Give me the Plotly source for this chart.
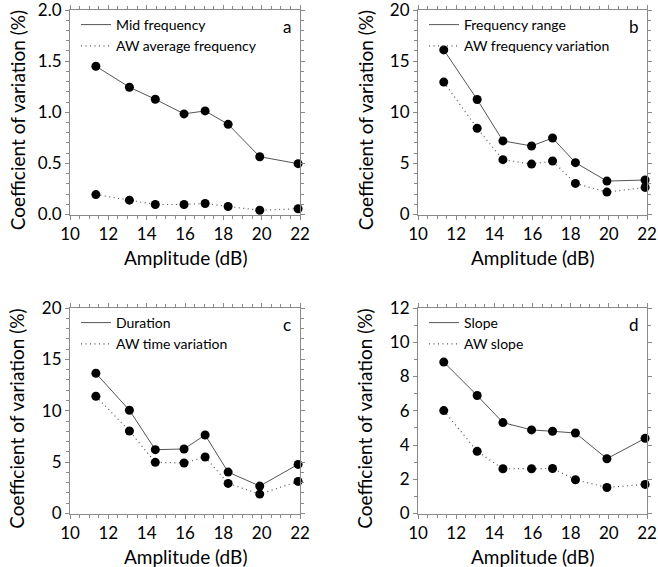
import plotly.graph_objects as go

# ---- data ----
amplitude = [11.35, 13.1, 14.45, 15.95, 17.05, 18.25, 19.9, 21.9]

mid_frequency = [1.45, 1.245, 1.127, 0.984, 1.013, 0.882, 0.565, 0.497]
aw_average_frequency = [0.195, 0.14, 0.098, 0.098, 0.108, 0.078, 0.042, 0.056]

frequency_range = [16.1, 11.25, 7.2, 6.7, 7.48, 5.07, 3.27, 3.37]
aw_frequency_variation = [12.95, 8.43, 5.36, 4.93, 5.23, 3.04, 2.19, 2.65]

duration = [13.65, 10.05, 6.21, 6.28, 7.64, 4.03, 2.67, 4.78]
aw_time_variation = [11.41, 8.03, 4.98, 4.91, 5.5, 2.93, 1.89, 3.12]

slope = [8.84, 6.89, 5.31, 4.88, 4.8, 4.7, 3.2, 4.39]
aw_slope = [6.01, 3.63, 2.61, 2.61, 2.63, 1.97, 1.52, 1.7]

panel_letters = ["a", "b", "c", "d"]
solid_names = ["Mid frequency", "Frequency range", "Duration", "Slope"]
dotted_names = ["AW average frequency", "AW frequency variation", "AW time variation", "AW slope"]
solid_series = [mid_frequency, frequency_range, duration, slope]
dotted_series = [aw_average_frequency, aw_frequency_variation, aw_time_variation, aw_slope]
y_ranges = [(0, 2), (0, 20), (0, 20), (0, 12)]
y_dticks = [0.5, 5, 5, 2]
y_minor = [0.1, 1, 1, 1]
y_fmt = [".1f", "d", "d", "d"]

W, H = 658, 567
FONT = "Lato"

# panel pixel boxes: (left, right, top, bottom)
boxes = [(70, 300, 10, 214.5), (418, 647, 10, 214.5),
         (70, 300, 308, 513.5), (418, 647, 308, 513.5)]

fig = go.Figure()
layout = dict(
    width=W, height=H,
    margin=dict(l=0, r=0, t=0, b=0, autoexpand=False),
    paper_bgcolor="white", plot_bgcolor="white",
    font=dict(family=FONT, color="black", size=17),
    annotations=[],
)

line_col = "#555555"
axis_col = "#8a8a8a"
dot_dash = "1px,3.5px"

for i in range(4):
    n = "" if i == 0 else str(i + 1)
    xa, ya = "x" + n, "y" + n
    leg = "legend" + n
    l, r, t, b = boxes[i]
    # lines (legend entries)
    fig.add_trace(go.Scatter(x=amplitude, y=solid_series[i], mode="lines",
                             line=dict(color=line_col, width=1), name=solid_names[i],
                             xaxis=xa, yaxis=ya, legend=leg))
    fig.add_trace(go.Scatter(x=amplitude, y=dotted_series[i], mode="lines",
                             line=dict(color=line_col, width=1.2, dash=dot_dash), name=dotted_names[i],
                             xaxis=xa, yaxis=ya, legend=leg))
    # markers
    for ser in (solid_series[i], dotted_series[i]):
        fig.add_trace(go.Scatter(x=amplitude, y=ser, mode="markers",
                                 marker=dict(color="black", size=9), showlegend=False,
                                 xaxis=xa, yaxis=ya, cliponaxis=False))

    common = dict(showline=True, linecolor=axis_col, linewidth=1, mirror="ticks",
                  ticks="outside", ticklen=4, tickcolor=axis_col, showgrid=False,
                  zeroline=False, automargin=False, ticklabeloverflow="allow",
                  tickfont=dict(size=17, family=FONT))
    layout["xaxis" + n] = dict(
        domain=[l / W, r / W], anchor=ya, range=[10, 22], dtick=2, tick0=10,
        minor=dict(dtick=0.5, ticks="outside", ticklen=3, tickcolor=axis_col),
        **common)
    layout["yaxis" + n] = dict(
        domain=[1 - b / H, 1 - t / H], anchor=xa, range=list(y_ranges[i]),
        dtick=y_dticks[i], tick0=0, tickformat=y_fmt[i],
        minor=dict(dtick=y_minor[i], ticks="outside", ticklen=3, tickcolor=axis_col),
        **common)

    layout[leg] = dict(x=(l + 6) / W, y=1 - (t - 1) / H, xanchor="left", yanchor="top",
                       bgcolor="rgba(0,0,0,0)", borderwidth=0,
                       font=dict(size=14, family=FONT), tracegroupgap=0)

    # panel letter
    layout["annotations"].append(dict(text=panel_letters[i], xref="paper", yref="paper",
                                      x=(r - 13) / W, y=1 - (t + 16) / H, showarrow=False,
                                      xanchor="center", yanchor="middle",
                                      font=dict(size=17, family=FONT)))
    # axis titles
    layout["annotations"].append(dict(text="Amplitude (dB)", xref="paper", yref="paper",
                                      x=(l + r) / 2 / W, y=1 - (b + 43) / H, showarrow=False,
                                      xanchor="center", yanchor="middle",
                                      font=dict(size=19, family=FONT)))
    layout["annotations"].append(dict(text="Coefficient of variation (%)", xref="paper", yref="paper",
                                      x=(l - 53) / W, y=1 - ((t + b) / 2 + 8) / H, showarrow=False,
                                      textangle=-90, xanchor="center", yanchor="middle",
                                      font=dict(size=19, family=FONT)))

fig.update_layout(**layout)
fig.write_html("out.html", config={"displayModeBar": False},
               post_script="document.body.style.margin='0';document.body.style.overflow='hidden';")
